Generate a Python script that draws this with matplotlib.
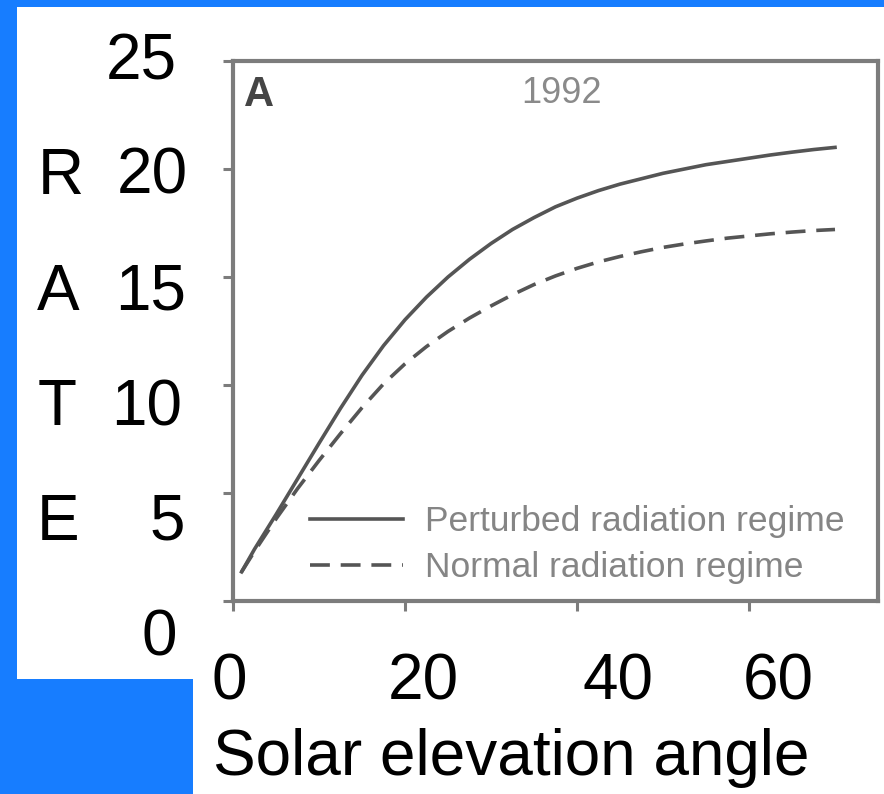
import matplotlib
matplotlib.use("Agg")
import matplotlib.pyplot as plt
from matplotlib.patches import Rectangle
from matplotlib.lines import Line2D

plt.rcParams['font.family'] = ['Liberation Sans', 'DejaVu Sans']

# data
angle = [1, 2.5, 5, 7.5, 10, 12.5, 15, 17.5, 20, 22.5, 25, 27.5, 30, 32.5, 35, 37.5,
         40, 42.5, 45, 47.5, 50, 52.5, 55, 57.5, 60, 62.5, 65, 67.5, 70]
perturbed = [1.35, 2.4, 4.0, 5.65, 7.3, 8.92, 10.45, 11.82, 13.02, 14.07, 15.0, 15.82, 16.55, 17.2, 17.75, 18.25,
             18.65, 19.0, 19.3, 19.55, 19.8, 20.0, 20.2, 20.35, 20.5, 20.65, 20.78, 20.9, 21.0]
normal = [1.35, 2.3, 3.8, 5.2, 6.5, 7.75, 8.95, 10.05, 10.98, 11.78, 12.48, 13.1, 13.66, 14.18, 14.65, 15.05,
          15.4, 15.7, 15.95, 16.17, 16.37, 16.53, 16.67, 16.8, 16.9, 17.0, 17.08, 17.15, 17.2]

series_labels = ['Perturbed radiation regime', 'Normal radiation regime']
panel_letter = 'A'
panel_year = '1992'

# big overlaid labels (slide text on top of the pasted figure)
ytick_labels = ['25', '20', '15', '10', '5', '0']
ytick_pos = [(141, 57), (152, 171), (151, 287), (147, 402), (167, 517), (159, 632)]
xtick_labels = ['0', '20', '40', '60']
xtick_pos = [(229, 676), (423, 676), (618, 676), (778, 676)]
ylabel_letters = ['R', 'A', 'T', 'E']
ylabel_pos = [(61, 171), (58, 287), (57, 402), (58, 517)]
xlabel = 'Solar elevation angle'

W, H = 884, 794
blue = '#177DFF'
gray = '#7c7c7c'
line_col = '#555555'


def fx(px):
    return px / W


def fy(py):
    return 1 - py / H


fig = plt.figure(figsize=(W / 100, H / 100), dpi=100, facecolor=blue)

# white slide areas
fig.patches.append(Rectangle((fx(17), fy(679)), 1 - fx(17), fy(7) - fy(679),
                             transform=fig.transFigure, facecolor='white', edgecolor='none', zorder=-5))
fig.patches.append(Rectangle((fx(193), 0), 1 - fx(193), fy(679),
                             transform=fig.transFigure, facecolor='white', edgecolor='none', zorder=-5))

ax = fig.add_axes([fx(233), fy(601), fx(878) - fx(233), fy(61) - fy(601)])
ax.set_zorder(2)
ax.set_facecolor('white')
ax.plot(angle, perturbed, color=line_col, lw=2.6)
ax.plot(angle, normal, color=line_col, lw=2.6, dashes=(5.5, 3.0))
ax.set_xlim(0, 75)
ax.set_ylim(0, 25)
ax.set_xticks([0, 20, 40, 60])
ax.set_yticks([0, 5, 10, 15, 20, 25])
ax.tick_params(direction='out', length=7, width=2.2, color=gray,
               labelbottom=False, labelleft=False)
for s in ax.spines.values():
    s.set_color(gray)
    s.set_linewidth(3)

ax.text(0.017, 0.917, panel_letter, transform=ax.transAxes, fontsize=30,
        fontweight='bold', color='#454545', ha='left', va='baseline')
ax.text(0.509, 0.922, panel_year, transform=ax.transAxes, fontsize=26,
        color='#8a8a8a', ha='center', va='baseline')

handles = [Line2D([], [], color=line_col, lw=2.6),
           Line2D([], [], color=line_col, lw=2.6, dashes=(5.5, 3.0))]
ax.legend(handles, series_labels, loc='center left', bbox_to_anchor=(0.119, 0.104),
          frameon=False, fontsize=25.5, labelcolor='#858585', handlelength=2.63,
          handletextpad=0.62, labelspacing=0.36, borderpad=0, borderaxespad=0)

# overlaid labels: positions are glyph centres, baseline = centre + half cap height
cap_half = 23
for t, (x, y) in zip(ytick_labels, ytick_pos):
    fig.text(fx(x), fy(y + cap_half), t, fontsize=46, ha='center', va='baseline')
for t, (x, y) in zip(xtick_labels, xtick_pos):
    fig.text(fx(x), fy(y + cap_half), t, fontsize=46, ha='center', va='baseline')
for t, (x, y) in zip(ylabel_letters, ylabel_pos):
    fig.text(fx(x), fy(y + cap_half), t, fontsize=46, ha='center', va='baseline')
fig.text(fx(213), fy(775), xlabel, fontsize=46, ha='left', va='baseline')

fig.savefig('out.png', dpi=100, facecolor=blue)
